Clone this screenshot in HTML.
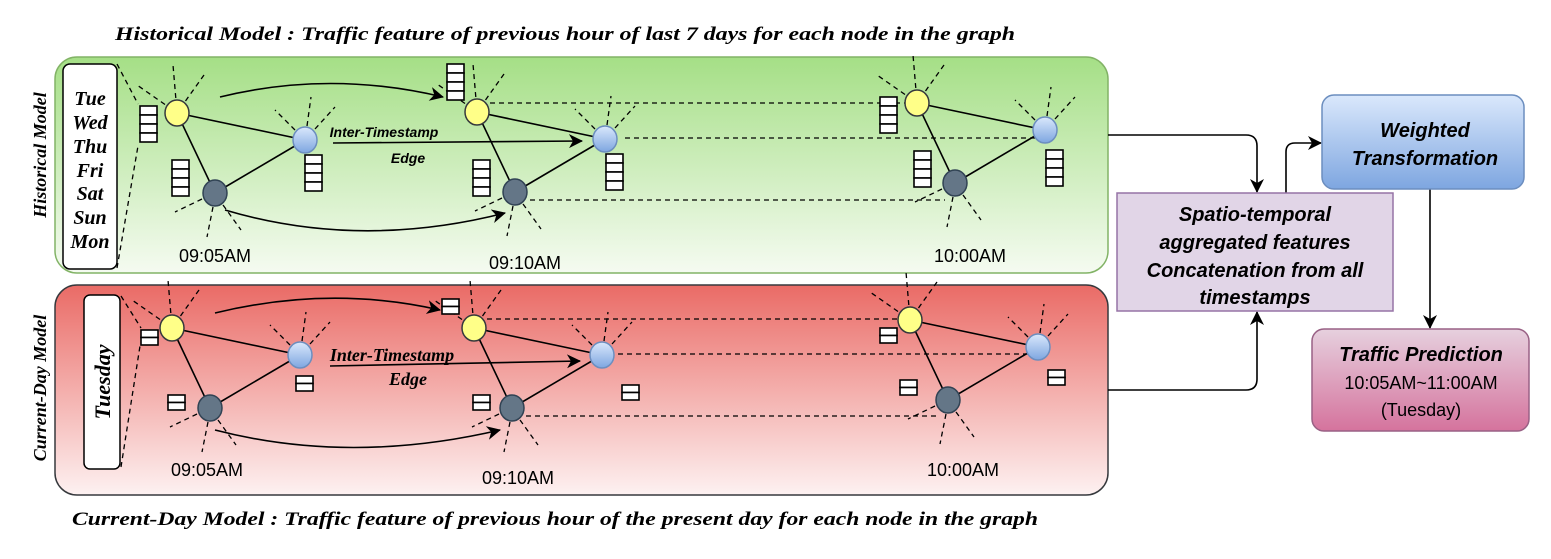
<!DOCTYPE html>
<html><head><meta charset="utf-8"><style>
html,body{margin:0;padding:0;background:#fff}
svg{display:block}
</style></head><body>
<svg width="1551" height="559" viewBox="0 0 1551 559" xmlns="http://www.w3.org/2000/svg">
<defs>
<linearGradient id="gG" x1="0" y1="0" x2="0" y2="1"><stop offset="0" stop-color="#a5df86"/><stop offset="1" stop-color="#f5fbf1"/></linearGradient>
<linearGradient id="gR" x1="0" y1="0" x2="0" y2="1"><stop offset="0" stop-color="#ea6b66"/><stop offset="1" stop-color="#fdf1f1"/></linearGradient>
<linearGradient id="gB" x1="0" y1="0" x2="0" y2="1"><stop offset="0" stop-color="#dae8fc"/><stop offset="1" stop-color="#7ea6e0"/></linearGradient>
<linearGradient id="gP" x1="0" y1="0" x2="0" y2="1"><stop offset="0" stop-color="#e6d0de"/><stop offset="1" stop-color="#d5739d"/></linearGradient>
<linearGradient id="gN" x1="0" y1="0" x2="0" y2="1"><stop offset="0" stop-color="#dae8fc"/><stop offset="1" stop-color="#7ea6e0"/></linearGradient>
<marker id="ar2" markerWidth="14" markerHeight="14" refX="13" refY="7" orient="auto" markerUnits="userSpaceOnUse"><path d="M0,0 L14,7 L0,14 L4,7 z" fill="#000"/></marker>
<g id="gr">
  <g stroke="#000" stroke-width="1.3" stroke-dasharray="5,4" fill="none">
    <line x1="-12" y1="-8.5" x2="-40" y2="-28"/><line x1="-1.2" y1="-15" x2="-4" y2="-48"/><line x1="8.5" y1="-12" x2="27" y2="-38"/>
    <line x1="118" y1="17" x2="98" y2="-3"/><line x1="130" y1="13" x2="134" y2="-16"/><line x1="138" y1="16" x2="158" y2="-6"/>
    <line x1="25" y1="86" x2="-2" y2="99"/><line x1="36" y1="94" x2="30" y2="124"/><line x1="46" y1="92" x2="64" y2="117"/>
  </g>
  <g stroke="#000" stroke-width="1.6">
    <line x1="0" y1="0" x2="128" y2="27"/><line x1="0" y1="0" x2="38" y2="80"/><line x1="38" y1="80" x2="128" y2="27"/>
  </g>
  <ellipse cx="0" cy="0" rx="12" ry="13" fill="#ffff88" stroke="#36393d" stroke-width="1.5"/>
  <ellipse cx="128" cy="27" rx="12" ry="13" fill="url(#gN)" stroke="#6c8ebf" stroke-width="1.5"/>
  <ellipse cx="38" cy="80" rx="12" ry="13" fill="#647687" stroke="#314354" stroke-width="1.5"/>
</g>
<g id="b4" fill="#fff" stroke="#000" stroke-width="1.6">
  <rect x="0" y="0" width="17" height="9"/><rect x="0" y="9" width="17" height="9"/><rect x="0" y="18" width="17" height="9"/><rect x="0" y="27" width="17" height="9"/>
</g>
<g id="b2" fill="#fff" stroke="#000" stroke-width="1.6">
  <rect x="0" y="0" width="17" height="7.5"/><rect x="0" y="7.5" width="17" height="7.5"/>
</g>
</defs>

<!-- titles -->
<text x="115" y="40" textLength="900" lengthAdjust="spacingAndGlyphs" font-family="Liberation Serif, serif" font-style="italic" font-weight="bold" font-size="19">Historical Model :  Traffic feature of previous hour of last 7 days for each node in the graph</text>
<text x="72" y="525" textLength="966" lengthAdjust="spacingAndGlyphs" font-family="Liberation Serif, serif" font-style="italic" font-weight="bold" font-size="19">Current-Day Model : Traffic feature of previous hour of the present day for each node in the graph</text>
<text transform="translate(46,155) rotate(-90)" text-anchor="middle" font-family="Liberation Serif, serif" font-style="italic" font-weight="bold" font-size="18">Historical Model</text>
<text transform="translate(46,388) rotate(-90)" text-anchor="middle" font-family="Liberation Serif, serif" font-style="italic" font-weight="bold" font-size="18">Current-Day Model</text>

<!-- panels -->
<rect x="55" y="57" width="1053" height="216" rx="22" fill="url(#gG)" stroke="#82b366" stroke-width="1.5"/>
<rect x="55" y="285" width="1053" height="210" rx="22" fill="url(#gR)" stroke="#36393d" stroke-width="1.5"/>

<!-- day boxes -->
<rect x="63" y="64" width="54" height="205" rx="7" fill="#fff" stroke="#000" stroke-width="1.5"/>
<g font-family="Liberation Serif, serif" font-style="italic" font-weight="bold" font-size="20" text-anchor="middle">
<text x="90" y="105">Tue</text><text x="90" y="129">Wed</text><text x="90" y="153">Thu</text><text x="90" y="177">Fri</text><text x="90" y="200">Sat</text><text x="90" y="224">Sun</text><text x="90" y="248">Mon</text>
</g>
<rect x="84" y="295" width="36" height="174" rx="6" fill="#fff" stroke="#000" stroke-width="1.5"/>
<text transform="translate(110,382) rotate(-90)" text-anchor="middle" font-family="Liberation Serif, serif" font-style="italic" font-weight="bold" font-size="22">Tuesday</text>

<g stroke="#000" stroke-width="1.3" stroke-dasharray="5,4">
<line x1="117" y1="64" x2="138" y2="104"/><line x1="117" y1="268" x2="138" y2="146"/>
<line x1="121" y1="296" x2="141" y2="328"/><line x1="121" y1="467" x2="140" y2="346"/>
<line x1="490" y1="103" x2="905" y2="103"/><line x1="625" y1="138" x2="1035" y2="138"/><line x1="530" y1="200" x2="945" y2="200"/>
<line x1="487" y1="319" x2="898" y2="319"/><line x1="618" y1="354" x2="1030" y2="354"/><line x1="526" y1="416" x2="938" y2="416"/>
</g>

<use href="#gr" x="177" y="113"/><use href="#gr" x="477" y="112"/><use href="#gr" x="917" y="103"/>
<use href="#gr" x="172" y="328"/><use href="#gr" x="474" y="328"/><use href="#gr" x="910" y="320"/>

<use href="#b4" x="140" y="106"/><use href="#b4" x="172" y="160"/><use href="#b4" x="305" y="155"/>
<use href="#b4" x="447" y="64"/><use href="#b4" x="473" y="160"/><use href="#b4" x="606" y="154"/>
<use href="#b4" x="880" y="97"/><use href="#b4" x="914" y="151"/><use href="#b4" x="1046" y="150"/>
<use href="#b2" x="141" y="330"/><use href="#b2" x="168" y="395"/><use href="#b2" x="296" y="376"/>
<use href="#b2" x="442" y="299"/><use href="#b2" x="473" y="395"/><use href="#b2" x="622" y="385"/>
<use href="#b2" x="880" y="328"/><use href="#b2" x="900" y="380"/><use href="#b2" x="1048" y="370"/>

<g stroke="#000" stroke-width="1.6" fill="none">
<path d="M220,97 Q330,70 443,97" marker-end="url(#ar2)"/>
<path d="M225,210 Q360,250 505,213" marker-end="url(#ar2)"/>
<line x1="333" y1="143" x2="582" y2="141" marker-end="url(#ar2)"/>
<path d="M215,313 Q330,285 440,310" marker-end="url(#ar2)"/>
<path d="M215,430 Q350,465 500,430" marker-end="url(#ar2)"/>
<line x1="330" y1="366" x2="580" y2="361" marker-end="url(#ar2)"/>
</g>
<g font-style="italic" font-weight="bold" text-anchor="middle">
<text x="384" y="137" font-family="Liberation Sans, sans-serif" font-size="14">Inter-Timestamp</text>
<text x="408" y="163" font-family="Liberation Sans, sans-serif" font-size="14">Edge</text>
<text x="392" y="361" font-family="Liberation Serif, serif" font-size="18">Inter-Timestamp</text>
<text x="408" y="385" font-family="Liberation Serif, serif" font-size="18">Edge</text>
</g>

<g font-family="Liberation Sans, sans-serif" font-size="18" text-anchor="middle">
<text x="215" y="262">09:05AM</text><text x="525" y="269">09:10AM</text><text x="970" y="262">10:00AM</text>
<text x="207" y="476">09:05AM</text><text x="518" y="484">09:10AM</text><text x="963" y="476">10:00AM</text>
</g>

<g stroke="#000" stroke-width="1.6" fill="none">
<path d="M1108,135 H1246 Q1257,135 1257,146 V192" marker-end="url(#ar2)"/>
<path d="M1108,390 H1246 Q1257,390 1257,379 V312" marker-end="url(#ar2)"/>
<path d="M1286,193 V152 Q1286,143 1295,143 H1321" marker-end="url(#ar2)"/>
<line x1="1430" y1="189" x2="1430" y2="328" marker-end="url(#ar2)"/>
</g>

<rect x="1117" y="193" width="276" height="118" fill="#e1d5e7" stroke="#9673a6" stroke-width="1.5"/>
<g font-family="Liberation Sans, sans-serif" font-style="italic" font-weight="bold" font-size="20" text-anchor="middle">
<text x="1255" y="221">Spatio-temporal</text>
<text x="1255" y="249">aggregated features</text>
<text x="1255" y="277">Concatenation from all</text>
<text x="1255" y="304">timestamps</text>
</g>
<rect x="1322" y="95" width="202" height="94" rx="12" fill="url(#gB)" stroke="#6c8ebf" stroke-width="1.5"/>
<g font-family="Liberation Sans, sans-serif" font-style="italic" font-weight="bold" font-size="20" text-anchor="middle">
<text x="1425" y="137">Weighted</text>
<text x="1425" y="165">Transformation</text>
</g>
<rect x="1312" y="329" width="217" height="102" rx="12" fill="url(#gP)" stroke="#996185" stroke-width="1.5"/>
<text x="1421" y="361" text-anchor="middle" font-family="Liberation Sans, sans-serif" font-style="italic" font-weight="bold" font-size="20">Traffic Prediction</text>
<text x="1421" y="389" text-anchor="middle" font-family="Liberation Sans, sans-serif" font-size="18">10:05AM~11:00AM</text>
<text x="1421" y="416" text-anchor="middle" font-family="Liberation Sans, sans-serif" font-size="18">(Tuesday)</text>
</svg>
</body></html>
